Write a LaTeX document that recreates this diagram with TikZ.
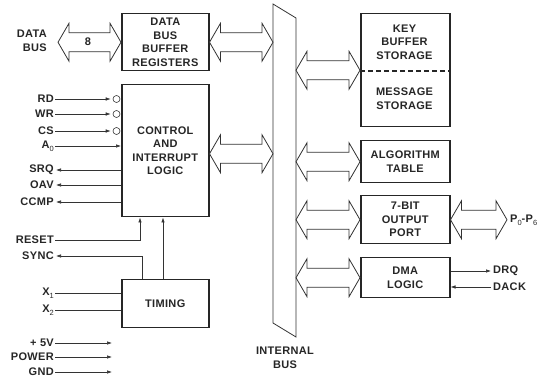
\documentclass[tikz,border=0pt]{standalone}
\usepackage{fontspec}
\newfontfamily\labfont{Liberation Sans}[LetterSpace=3]
\usetikzlibrary{arrows.meta,calc}
\newcommand\subd[1]{\raisebox{-0.45ex}{\fontsize{7.5}{8}\selectfont\mdseries #1}}
\newcommand\bigarr[2]{\draw[busarr] let \p1=#1, \p2=#2 in
  (\x1,\y1) -- (\x1+11pt,\y1+19pt) -- (\x1+11pt,\y1+9.5pt) -- (\x2-11pt,\y1+9.5pt)
  -- (\x2-11pt,\y1+19pt) -- (\x2,\y1) -- (\x2-11pt,\y1-19pt) -- (\x2-11pt,\y1-9.5pt)
  -- (\x1+11pt,\y1-9.5pt) -- (\x1+11pt,\y1-19pt) -- cycle;}
\begin{document}
\begin{tikzpicture}[x=1pt,y=-1pt,
  lbl/.style={font=\labfont\bfseries\fontsize{11}{13.5}\selectfont, inner sep=0pt, text=black!85},
  box/.style={lbl, draw=black!85, line width=1.5pt, anchor=north west, align=center, minimum width=87pt},
  sig/.style={line width=0.6pt, draw=black!80},
  arr/.style={-{Latex[length=5pt,width=3.5pt]}},
  bubble/.style={circle, draw=black!80, line width=0.6pt, minimum size=7pt, inner sep=0pt},
  busarr/.style={line width=0.8pt, draw=black!80, fill=white, line join=miter}]
\useasboundingbox (0,0) rectangle (547,379);
% helper coordinates
\coordinate (busL) at (273,0);
\coordinate (busR) at (296,0);
\coordinate (kd) at (0,71);
\coordinate (pend) at (507,0);
\coordinate (resetx) at (140,0);
\coordinate (syncx) at (142,0);
\coordinate (tcx) at (163,0);
\coordinate (pwrx) at (112,0);
% internal bus
\draw[line width=0.8pt, draw=black!80] (273,4) -- (296,18) -- (296,337) -- (273,323) -- cycle;
\node[lbl, align=center] (ibus) at (285,358) {INTERNAL\\BUS};
% left boxes
\node[box, minimum height=57pt] (dbb) at (121,13) {DATA\\BUS\\BUFFER\\REGISTERS};
\node[box, minimum height=132pt] (ctrl) at (121,84) {CONTROL\\AND\\INTERRUPT\\LOGIC};
\node[box, minimum height=48pt] (timing) at (121,279) {TIMING};
% right boxes
\node[box, minimum width=89pt, minimum height=113pt] (key) at (360,13) {};
\draw[line width=1.5pt, draw=black!85, dash pattern=on 5pt off 3pt] (key.west |- kd) -- (key.east |- kd);
\node[lbl, align=center] (keyt) at (404.5,42) {KEY\\BUFFER\\STORAGE};
\node[lbl, align=center] (msgt) at (404.5,98.5) {MESSAGE\\STORAGE};
\node[box, minimum width=89pt, minimum height=42pt] (algo) at (360,140) {ALGORITHM\\TABLE};
\node[box, minimum width=89pt, minimum height=48pt] (outp) at (360,195) {7-BIT\\OUTPUT\\PORT};
\node[box, minimum width=89pt, minimum height=40pt] (dma) at (360,257) {DMA\\LOGIC};
% big bus arrows
\node[lbl, align=right, anchor=east] (dbus) at (47,41) {DATA\\BUS};
\coordinate (dbl) at (58,0);
\bigarr{(dbl |- dbb.west)}{(dbb.west)}
\node[lbl] (eight) at (88,42) {8};
\bigarr{(dbb.east)}{(busL |- dbb.east)}
\bigarr{($(ctrl.east)+(0,3)$)}{($(busL |- ctrl.east)+(0,3)$)}
\bigarr{(busR |- key.west)}{(key.west)}
\bigarr{(busR |- algo.west)}{(algo.west)}
\bigarr{(busR |- outp.west)}{(outp.west)}
\bigarr{(busR |- dma.west)}{(dma.west)}
\bigarr{(outp.east)}{(pend |- outp.east)}
\node[lbl, anchor=west] (pp) at (510,220) {P\subd{0}-P\subd{6}};
% DMA signals
\node[lbl, anchor=west] (drq) at (493,271) {DRQ};
\node[lbl, anchor=west] (dack) at (493,287) {DACK};
\draw[sig,arr] (dma.east |- drq.west) -- ([xshift=-2pt]drq.west);
\draw[sig,arr] ([xshift=-2pt]dack.west) -- (dack.west -| dma.east);
% control inputs with bubbles
\node[lbl, anchor=east] (rd) at (54,99) {RD};
\node[lbl, anchor=east] (wr) at (54,114) {WR};
\node[lbl, anchor=east] (cs) at (54,131) {CS};
\node[bubble] (rdc) at (116.5,99) {};
\node[bubble] (wrc) at (116.5,114) {};
\node[bubble] (csc) at (116.5,131) {};
\draw[sig,arr,shorten >=2pt] ([xshift=1pt]rd.east) -- (rdc.west);
\draw[sig,arr,shorten >=2pt] ([xshift=1pt]wr.east) -- (wrc.west);
\draw[sig,arr,shorten >=2pt] ([xshift=1pt]cs.east) -- (csc.west);
\node[lbl, anchor=east] (a0) at (54,146) {A\subd{0}};
\draw[sig,arr] ([xshift=1pt]a0.east) -- (a0.east -| ctrl.west);
% control outputs
\node[lbl, anchor=east] (srq) at (54,170) {SRQ};
\node[lbl, anchor=east] (oav) at (54,185) {OAV};
\node[lbl, anchor=east] (ccmp) at (54,202) {CCMP};
\draw[sig,arr] (srq.east -| ctrl.west) -- ([xshift=2pt]srq.east);
\draw[sig,arr] (oav.east -| ctrl.west) -- ([xshift=2pt]oav.east);
\draw[sig,arr] (ccmp.east -| ctrl.west) -- ([xshift=2pt]ccmp.east);
% reset, sync, timing
\node[lbl, anchor=east] (reset) at (54,240) {RESET};
\node[lbl, anchor=east] (sync) at (54,256) {SYNC};
\draw[sig,arr] ([xshift=1pt]reset.east) -| (resetx |- ctrl.south);
\draw[sig,arr] (syncx |- timing.north) |- ([xshift=2pt]sync.east);
\draw[sig,arr] (tcx |- timing.north) -- (tcx |- ctrl.south);
\node[lbl, anchor=east] (x1) at (54,293) {X\subd{1}};
\node[lbl, anchor=east] (x2) at (54,310) {X\subd{2}};
\draw[sig] ([xshift=1pt]x1.east) -- (x1.east -| timing.west);
\draw[sig] ([xshift=1pt]x2.east) -- (x2.east -| timing.west);
% power
\node[lbl, anchor=east] (p5) at (54,343) {+ 5V};
\node[lbl, anchor=east] (pwr) at (54,357) {POWER};
\node[lbl, anchor=east] (gnd) at (54,372) {GND};
\draw[sig,arr] ([xshift=1pt]p5.east) -- (p5.east -| pwrx);
\draw[sig,arr] ([xshift=1pt]pwr.east) -- (pwr.east -| pwrx);
\draw[sig,arr] ([xshift=1pt]gnd.east) -- (gnd.east -| pwrx);
\end{tikzpicture}
\end{document}
